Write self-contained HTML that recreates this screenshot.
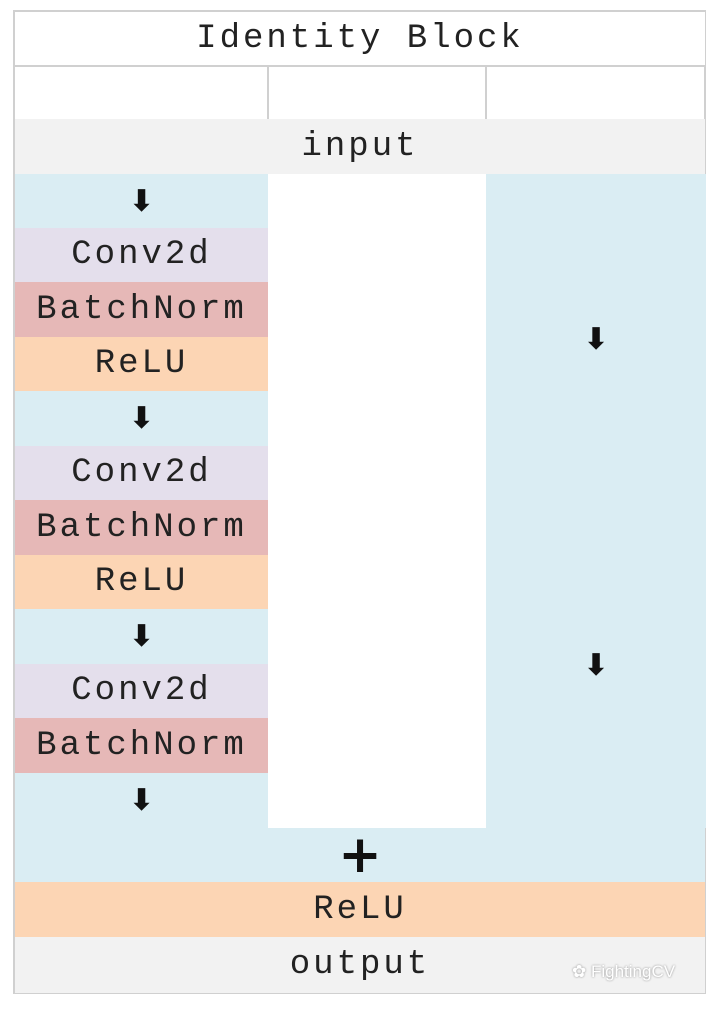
<!DOCTYPE html>
<html><head><meta charset="utf-8"><style>
body{margin:0;width:720px;height:1010px;background:#fff;position:relative;overflow:hidden;font-family:"Liberation Mono","DejaVu Sans Mono",monospace;}
.r{position:absolute;display:flex;align-items:center;justify-content:center;color:#222;font-size:34px;letter-spacing:3px;}
.a{font-family:"DejaVu Sans",sans-serif;font-weight:bold;font-size:30px;letter-spacing:0;color:#111;}
</style></head><body>
<!-- frame -->
<div style="position:absolute;left:13px;top:10px;width:693px;height:984px;border:2px solid #d0d0d0;box-sizing:border-box"></div>
<div class="r" style="left:15px;top:12px;width:690px;height:53px;background:#fff">Identity Block</div>
<div style="position:absolute;left:15px;top:65px;width:690px;height:2px;background:#d0d0d0"></div>
<div style="position:absolute;left:267px;top:65px;width:2px;height:54px;background:#d0d0d0"></div>
<div style="position:absolute;left:485px;top:65px;width:2px;height:54px;background:#d0d0d0"></div>
<div class="r" style="left:15px;top:119px;width:690px;height:55px;background:#f2f2f2">input</div>
<!-- right column -->
<div style="position:absolute;left:486px;top:174px;width:220px;height:654px;background:#daedf3"></div>
<div class="r a" style="left:486px;top:312px;width:220px;height:54px">⬇</div>
<div class="r a" style="left:486px;top:638px;width:220px;height:54px">⬇</div>
<!-- left column -->
<div class="r a" style="left:15px;top:174px;width:253px;height:54px;background:#daedf3">⬇</div>
<div class="r" style="left:15px;top:228px;width:253px;height:54px;background:#e4dfec">Conv2d</div>
<div class="r" style="left:15px;top:282px;width:253px;height:55px;background:#e6b8b7">BatchNorm</div>
<div class="r" style="left:15px;top:337px;width:253px;height:54px;background:#fcd5b4">ReLU</div>
<div class="r a" style="left:15px;top:391px;width:253px;height:55px;background:#daedf3">⬇</div>
<div class="r" style="left:15px;top:446px;width:253px;height:54px;background:#e4dfec">Conv2d</div>
<div class="r" style="left:15px;top:500px;width:253px;height:55px;background:#e6b8b7">BatchNorm</div>
<div class="r" style="left:15px;top:555px;width:253px;height:54px;background:#fcd5b4">ReLU</div>
<div class="r a" style="left:15px;top:609px;width:253px;height:55px;background:#daedf3">⬇</div>
<div class="r" style="left:15px;top:664px;width:253px;height:54px;background:#e4dfec">Conv2d</div>
<div class="r" style="left:15px;top:718px;width:253px;height:55px;background:#e6b8b7">BatchNorm</div>
<div class="r a" style="left:15px;top:773px;width:253px;height:55px;background:#daedf3">⬇</div>
<div class="r" style="left:15px;top:828px;width:690px;height:54px;background:#daedf3;font-family:'DejaVu Sans',sans-serif;font-weight:bold;font-size:52px;letter-spacing:0;color:#111">+</div>
<div class="r" style="left:15px;top:882px;width:690px;height:55px;background:#fcd5b4">ReLU</div>
<div class="r" style="left:15px;top:937px;width:690px;height:56px;background:#f2f2f2">output</div>
<div style="position:absolute;left:572px;top:962px;font-family:'Liberation Sans',sans-serif;font-size:17px;color:#fff;text-shadow:0 0 2px #888">✿ FightingCV</div>
</body></html>
